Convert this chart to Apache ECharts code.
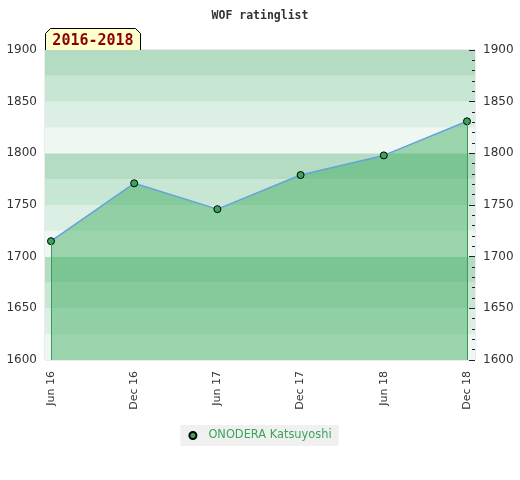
<!DOCTYPE html>
<html>
<head>
<meta charset="utf-8">
<script src="https://cdn.jsdelivr.net/npm/echarts@6/dist/echarts.min.js"></script>
<style>html,body{margin:0;padding:0;background:#fff}#c{width:520px;height:480px}</style>
</head>
<body>
<div id="c"></div>
<script>
var categories = ['Jun 16', 'Dec 16', 'Jun 17', 'Dec 17', 'Jun 18', 'Dec 18'];
var ratings = [1715, 1771, 1746, 1779, 1798, 1831];
var playerName = 'ONODERA Katsuyoshi';
var chartTitle = 'WOF ratinglist';
var periodLabel = '2016-2018';
var yMin = 1600, yMax = 1900;

var points = ratings.map(function (v, i) { return [i, v]; });
var last = ratings.length - 1;

var chart = echarts.init(document.getElementById('c'));
chart.setOption({
  animation: false,
  title: {
    text: chartTitle, left: 'center', top: 5,
    textStyle: { fontFamily: 'DejaVu Sans Mono', fontWeight: 'bold', fontSize: 11.5, color: '#333' }
  },
  legend: {
    top: 425, left: 'center',
    backgroundColor: '#f0f0f0',
    padding: [5, 7, 5, 8],
    icon: 'circle', itemWidth: 7, itemHeight: 7,
    textStyle: { color: '#3aa55e', fontSize: 11.4, fontFamily: 'DejaVu Sans', padding: [0, 0, 0, 7] },
    data: [playerName]
  },
  grid: { left: 45, right: 45, top: 50, bottom: 120, show: true, borderColor: '#d8d8d8', borderWidth: 1, backgroundColor: 'transparent' },
  xAxis: {
    type: 'value', min: -0.072, max: 5.096,
    axisLine: { show: false },
    axisTick: { show: false },
    splitLine: { show: false },
    axisLabel: {
      customValues: categories.map(function (c, i) { return i; }),
      rotate: 90, margin: 11, fontSize: 11, color: '#333', fontFamily: 'DejaVu Sans',
      formatter: function (v) { return categories[Math.round(v)] || ''; }
    }
  },
  yAxis: [{
    type: 'value', min: yMin, max: yMax, interval: 25, position: 'left',
    axisLine: { show: false }, axisTick: { show: false }, splitLine: { show: false },
    splitArea: { show: true, areaStyle: { color: ['#eef7f2', '#dcefe4', '#c8e6d4', '#b3dcc2'] } },
    axisLabel: {
      fontSize: 12, color: '#333', fontFamily: 'DejaVu Sans', margin: 8,
      formatter: function (v) { return v % 50 === 0 ? String(v) : ''; }
    }
  }, {
    type: 'value', min: yMin, max: yMax, interval: 50, position: 'right',
    axisLine: { show: false }, splitLine: { show: false },
    axisTick: { show: true, inside: true, length: 6, lineStyle: { color: '#222' } },
    minorTick: { show: true, splitNumber: 5, length: 3, lineStyle: { color: '#222' } },
    axisLabel: { fontSize: 12, color: '#333', fontFamily: 'DejaVu Sans', margin: 8,
      formatter: function (v) { return String(v); } }
  }],
  series: [{
    name: playerName, type: 'line', data: points,
    lineStyle: { color: '#62a3dc', width: 1.5 },
    symbol: 'circle', symbolSize: 7,
    itemStyle: { color: '#3aa55e', borderColor: '#000', borderWidth: 1 },
    areaStyle: { color: 'rgb(61,171,95)', opacity: 0.475, origin: 'start' },
    markLine: {
      silent: true, symbol: 'none', label: { show: false },
      lineStyle: { color: '#3a9a5a', width: 1, type: 'solid' },
      data: [
        [{ coord: [0, ratings[0]] }, { coord: [0, yMin] }],
        [{ coord: [last, ratings[last]] }, { coord: [last, yMin] }]
      ]
    }
  }],
  graphic: [{
    type: 'group', left: 45, top: 28,
    children: [{
      type: 'polygon',
      shape: { points: [[0, 22], [0, 5], [5, 0], [90, 0], [95, 5], [95, 22]] },
      style: { fill: '#ffffcc', stroke: '#000', lineWidth: 1 }
    }, {
      type: 'text', x: 47.5, y: 12.5,
      style: { text: periodLabel, fill: '#8b0000', font: 'bold 15px "DejaVu Sans Mono"', align: 'center', verticalAlign: 'middle' }
    }]
  }]
});
</script>
</body>
</html>
